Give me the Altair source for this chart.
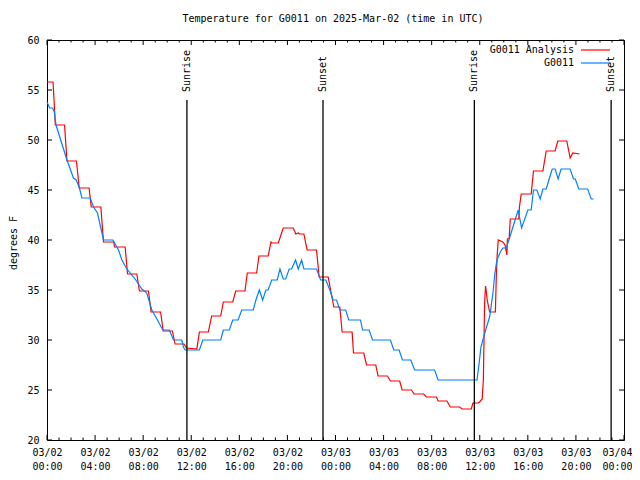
import altair as alt
import pandas as pd

# ---- data (hours since 2025-03-02 00:00 UTC, degrees F) ----
red_h = [0.0, 0.5, 0.6, 0.69, 1.46, 1.66, 2.45, 2.68, 3.5, 3.68, 4.48, 4.7, 5.55, 5.62,
         6.5, 6.7, 7.47, 7.69, 8.44, 8.66, 9.45, 9.67, 10.43, 10.66, 11.4, 11.6, 12.46,
         12.68, 13.42, 13.7, 14.45, 14.67, 15.45, 15.7, 16.47, 16.66, 17.44, 17.63, 18.4,
         18.63, 18.7, 19.24, 19.65, 20.48, 20.7, 20.9, 21.0, 21.37, 21.64, 22.42, 22.64,
         23.39, 23.86, 24.36, 24.55, 25.38, 25.5, 26.35, 26.58, 27.35, 27.54, 28.32, 28.57,
         29.34, 29.54, 30.32, 30.53, 31.34, 31.55, 32.4, 32.53, 33.27, 33.55, 34.33, 34.53,
         35.3, 35.43, 35.85, 35.99, 36.2, 36.3, 36.4, 36.48, 36.55, 36.62, 36.82, 37.3,
         37.38, 37.46, 37.54, 37.92, 38.1, 38.26, 38.3, 38.45, 38.54, 39.25, 39.3, 39.45,
         40.28, 40.47, 41.25, 41.53, 42.27, 42.49, 43.24, 43.52, 43.74, 44.3]
red_v = [55.8, 55.8, 53.7, 51.5, 51.5, 47.9, 47.9, 45.2, 45.2, 43.3, 43.3, 39.8, 39.8, 39.3,
         39.3, 36.6, 36.6, 34.9, 34.9, 32.8, 32.8, 30.9, 30.9, 29.6, 29.6, 29.2, 29.1,
         30.8, 30.8, 32.4, 32.4, 33.8, 33.8, 34.9, 34.9, 36.7, 36.7, 38.4, 38.4,
         39.8, 39.7, 39.7, 41.2, 41.2, 40.6, 40.7, 40.6, 40.6, 39.0, 39.0, 36.3,
         36.3, 33.3, 33.3, 30.8, 30.8, 28.7, 28.7, 27.5, 27.5, 26.4, 26.4, 25.9,
         25.9, 25.0, 25.0, 24.6, 24.6, 24.3, 24.3, 23.9, 23.9, 23.3, 23.3, 23.1,
         23.1, 23.7, 23.7, 23.8, 24.1, 26.0, 33.5, 35.4, 34.8, 34.0, 32.8, 32.8,
         36.5, 38.7, 40.0, 39.8, 39.5, 38.5, 40.1, 40.2, 42.1, 42.1, 43.3, 44.6,
         44.6, 46.9, 46.9, 48.9, 48.9, 49.9, 49.9, 48.2, 48.7, 48.6]

blue_h = [0.0, 0.22, 0.47, 0.61, 0.75, 1.66, 2.2, 2.43, 2.7, 2.9, 3.6, 3.87, 4.2, 4.7,
          5.48, 5.95, 6.23, 6.59, 6.92, 7.33, 7.89, 8.3, 8.72, 9.19, 9.63, 10.18, 10.52,
          11.21, 11.35, 11.49, 12.68, 12.96, 14.45, 14.67, 15.17, 15.45, 15.9, 16.2, 17.16,
          17.38, 17.66, 17.94, 18.21, 18.4, 18.69, 19.15, 19.38, 19.65, 19.85, 20.15, 20.35,
          20.68, 20.9, 21.18, 21.37, 22.42, 22.76, 23.2, 23.53, 23.8, 24.09, 24.36, 24.85,
          25.1, 26.08, 26.25, 26.8, 27.08, 28.57, 28.85, 29.29, 29.57, 30.26, 30.59, 32.25,
          32.53, 35.77, 35.93, 36.1, 36.49, 36.82, 37.1, 37.26, 37.43, 37.71, 37.92, 38.2,
          38.48, 38.76, 39.2, 39.48, 40.0, 40.28, 40.47, 40.75, 41.03, 41.25, 41.53, 41.75,
          42.03, 42.27, 42.52, 42.77, 43.52, 43.8, 43.95, 44.24, 44.98, 45.27, 45.48]
blue_v = [53.8, 53.2, 53.2, 52.8, 51.5, 48.0, 46.2, 46.0, 45.2, 44.2, 44.2, 43.3, 42.7, 40.0,
          40.0, 39.0, 38.0, 37.2, 36.7, 36.1, 35.1, 34.7, 33.0, 32.0, 31.0, 31.0, 30.0,
          30.0, 29.3, 29.0, 29.0, 30.0, 30.0, 31.0, 31.0, 32.0, 32.0, 33.0, 33.0,
          34.0, 35.0, 34.0, 35.0, 35.0, 36.0, 36.0, 37.1, 36.1, 36.1, 37.1, 37.1,
          38.0, 37.1, 38.0, 37.1, 37.1, 36.0, 36.0, 35.0, 34.0, 34.0, 33.0, 33.0,
          32.0, 32.0, 31.0, 31.0, 30.0, 30.0, 29.0, 29.0, 28.0, 28.0, 27.0, 27.0,
          26.0, 26.0, 27.5, 29.3, 31.0, 32.3, 34.7, 36.7, 38.0, 38.8, 39.2, 39.2,
          40.2, 41.3, 43.0, 41.2, 43.0, 43.0, 45.0, 45.0, 44.1, 45.1, 45.1, 46.0,
          47.1, 47.1, 46.1, 47.1, 47.1, 46.1, 46.1, 45.1, 45.1, 44.1, 44.1]

sun_h = [11.64, 22.96, 35.55, 46.93]
sun_label = ["Sunrise", "Sunset", "Sunrise", "Sunset"]

series_names = ["G0011 Analysis", "G0011"]
series_colors = ["#ff0000", "#0080ff"]

x_major = list(range(0, 49, 4))
x_minor = [h for h in range(49) if h % 4]
y_ticks = [20, 25, 30, 35, 40, 45, 50, 55, 60]

title_text = "Temperature for G0011 on 2025-Mar-02 (time in UTC)"
ytitle_text = "degrees F"

FONT = "DejaVu Sans Mono"
W, H = 577, 400

df = pd.concat([
    pd.DataFrame({"h": red_h, "v": red_v, "series": series_names[0], "o": range(len(red_h))}),
    pd.DataFrame({"h": blue_h, "v": blue_v, "series": series_names[1], "o": range(len(blue_h))}),
])

xscale = alt.Scale(domain=[0, 48], nice=False, zero=False)
yscale = alt.Scale(domain=[20, 60], nice=False, zero=False)

xaxis = alt.Axis(
    values=x_major, title=None, ticks=False, domain=False, grid=False,
    labelExpr="['03/0' + (2 + floor(datum.value / 24)), format(datum.value % 24, '02d') + ':00']",
    labelFont=FONT, labelFontSize=10, labelColor="black", labelPadding=7,
    labelAlign={"condition": {"test": "datum.value >= 48", "value": "right"}, "value": "center"},
    labelOffset={"condition": {"test": "datum.value >= 48", "value": 8}, "value": 0},
    labelLineHeight=14, labelFlush=False, labelOverlap=False)
yaxis = alt.Axis(
    values=y_ticks, title=None, ticks=False, domain=False, grid=False,
    labelFont=FONT, labelFontSize=10, labelColor="black", labelPadding=8,
    labelFlush=False, labelOverlap=False)

X = lambda: alt.X("h:Q", scale=xscale, axis=xaxis)
Y = lambda: alt.Y("v:Q", scale=yscale, axis=yaxis)

lines = alt.Chart(df).mark_line(strokeWidth=1.2).encode(
    x=X(), y=Y(),
    color=alt.Color("series:N", scale=alt.Scale(domain=series_names, range=series_colors), legend=None),
    order="o:Q",
)

sun_df = pd.DataFrame({"h": sun_h, "label": sun_label})
sun_rules = alt.Chart(sun_df).mark_rule(color="black", strokeWidth=1.3).encode(
    x=X(), y=alt.value(60), y2=alt.value(H))
sun_text = alt.Chart(sun_df).mark_text(
    angle=270, align="left", baseline="middle", font=FONT, fontSize=10, color="black").encode(
    x=X(), y=alt.value(52), text="label:N")

maj_df = pd.DataFrame({"h": x_major})
min_df = pd.DataFrame({"h": x_minor})
yt_df = pd.DataFrame({"v": y_ticks})

def xt(d, y0, y1):
    return alt.Chart(d).mark_rule(color="black", strokeWidth=1).encode(
        x=X(), y=alt.value(y0), y2=alt.value(y1))

def yt(x0, x1):
    return alt.Chart(yt_df).mark_rule(color="black", strokeWidth=1).encode(
        y=Y(), x=alt.value(x0), x2=alt.value(x1))

ticks = [xt(maj_df, H, H - 5), xt(min_df, H, H - 2.5), xt(maj_df, 0, 5), xt(min_df, 0, 2.5),
         yt(0, 5), yt(W - 5, W)]

one = pd.DataFrame({"t": [title_text]})
title = alt.Chart(one).mark_text(font=FONT, fontSize=10, color="black", align="center",
                                 baseline="middle").encode(
    x=alt.value(286), y=alt.value(-21), text="t:N")
one_y = pd.DataFrame({"t": [ytitle_text]})
ytitle = alt.Chart(one_y).mark_text(font=FONT, fontSize=10, color="black", align="center",
                                    baseline="middle", angle=270).encode(
    x=alt.value(-33), y=alt.value(203), text="t:N")

leg_df = pd.DataFrame({"name": series_names, "yy": [10, 23]})
leg_text = alt.Chart(leg_df).mark_text(font=FONT, fontSize=10, color="black", align="right",
                                       baseline="middle").encode(
    x=alt.value(527), y=alt.Y("yy:Q", scale=None), text="name:N")
leg_lines = alt.Chart(leg_df).mark_rule(strokeWidth=1.2).encode(
    x=alt.value(534), x2=alt.value(563), y=alt.Y("yy:Q", scale=None),
    color=alt.Color("name:N", scale=alt.Scale(domain=series_names, range=series_colors), legend=None))

chart = alt.layer(lines, sun_rules, sun_text, *ticks, title, ytitle, leg_lines, leg_text).properties(
    width=W, height=H,
    autosize=alt.AutoSizeParams(type="none"),
    padding={"left": 39, "top": 32, "right": 8, "bottom": 40},
    background="white",
).configure_view(stroke="black", strokeWidth=1)

chart.save("out.html", embed_options={"renderer": "svg", "actions": False})
